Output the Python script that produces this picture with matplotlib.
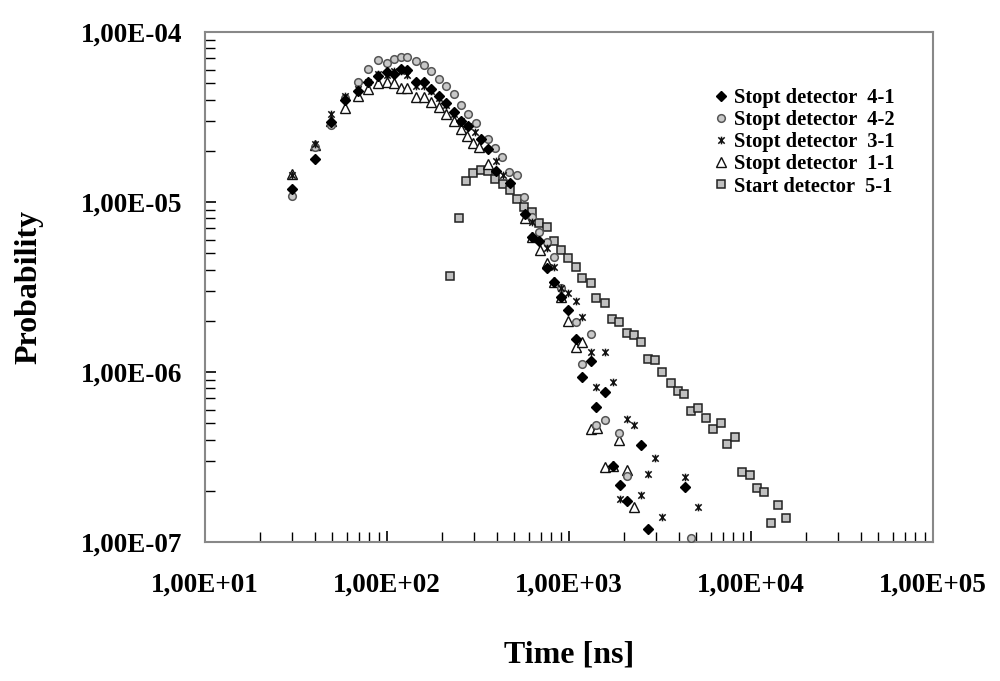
import matplotlib
matplotlib.use("Agg")
import matplotlib.pyplot as plt
from matplotlib.path import Path
from matplotlib.ticker import FuncFormatter, LogLocator, NullFormatter

plt.rcParams['font.family'] = ['Liberation Serif', 'DejaVu Serif']
plt.rcParams['font.weight'] = 'bold'

# ---- data ----
x_41 = [30, 40, 49, 59, 69, 78.5, 89, 100, 109, 119, 128, 144, 159, 175, 193, 212, 233, 256, 280,
        327, 357, 396, 472, 570, 624, 681, 753, 822, 899, 982, 1086, 1172, 1313, 1416, 1580, 1740,
        1900, 2070, 2500, 2700, 4350]
y_41 = [1.19e-5, 1.79e-5, 2.95e-5, 4.0e-5, 4.5e-5, 5.1e-5, 5.5e-5, 5.8e-5, 5.7e-5, 6.05e-5, 6.0e-5,
        5.1e-5, 5.1e-5, 4.6e-5, 4.2e-5, 3.8e-5, 3.4e-5, 3.0e-5, 2.8e-5,
        2.35e-5, 2.05e-5, 1.52e-5, 1.29e-5, 8.5e-6, 6.2e-6, 5.9e-6, 4.1e-6, 3.4e-6, 2.75e-6, 2.33e-6,
        1.56e-6, 9.3e-7, 1.16e-6, 6.2e-7, 7.6e-7, 2.8e-7, 2.15e-7, 1.75e-7, 3.7e-7, 1.2e-7, 2.1e-7]

x_42 = [30, 40, 49, 59, 69, 78.5, 89, 100, 109, 119, 128, 144, 159, 175, 193, 212, 233, 256, 280, 310,
        357, 391, 427, 466, 516, 563, 624, 681, 753, 822, 899, 1086, 1172, 1313, 1416, 1567, 1872,
        2070, 4706]
y_42 = [1.08e-5, 2.1e-5, 2.84e-5, 4.1e-5, 5.08e-5, 6.05e-5, 6.85e-5, 6.6e-5, 6.95e-5, 7.1e-5, 7.1e-5,
        6.75e-5, 6.4e-5, 5.9e-5, 5.3e-5, 4.8e-5, 4.3e-5, 3.7e-5, 3.3e-5, 2.9e-5,
        2.35e-5, 2.07e-5, 1.84e-5, 1.50e-5, 1.45e-5, 1.07e-5, 8.2e-6, 6.7e-6, 5.8e-6, 4.75e-6, 3.1e-6,
        1.97e-6, 1.11e-6, 1.67e-6, 4.9e-7, 5.2e-7, 4.4e-7, 2.45e-7, 1.05e-7]

x_31 = [30, 40, 49, 59, 69, 78.5, 89, 100, 109, 119, 128, 144, 159, 175, 193, 212, 233, 256, 280,
        303, 396, 432, 624, 753, 822, 899, 982, 1086, 1172, 1313, 1416, 1580, 1740, 1900, 2070,
        2263, 2473, 2700, 2985, 3263, 4350, 5140]
y_31 = [1.45e-5, 2.2e-5, 3.3e-5, 4.2e-5, 4.6e-5, 5.1e-5, 5.7e-5, 5.6e-5, 5.9e-5, 5.9e-5, 5.6e-5,
        4.8e-5, 4.8e-5, 4.5e-5, 4.1e-5, 3.7e-5, 3.3e-5, 3.0e-5, 2.8e-5,
        2.58e-5, 1.74e-5, 1.45e-5, 7.6e-6, 5.35e-6, 4.15e-6, 3.1e-6, 2.9e-6, 2.6e-6, 2.12e-6, 1.32e-6,
        8.2e-7, 1.32e-6, 8.7e-7, 1.8e-7, 5.3e-7, 4.85e-7, 1.9e-7, 2.5e-7, 3.1e-7, 1.4e-7, 2.4e-7, 1.6e-7]

x_11 = [30, 40, 49, 59, 69, 78.5, 89, 100, 109, 119, 128, 144, 159, 175, 193, 212, 233, 256,
        274, 296, 322, 357, 570, 624, 690, 753, 822, 899, 982, 1086, 1172, 1313, 1430, 1567, 1740,
        1872, 2070, 2263]
y_11 = [1.46e-5, 2.15e-5, 3.0e-5, 3.57e-5, 4.2e-5, 4.6e-5, 5.0e-5, 5.1e-5, 5.0e-5, 4.7e-5, 4.7e-5,
        4.15e-5, 4.15e-5, 3.9e-5, 3.6e-5, 3.3e-5, 3.0e-5, 2.7e-5,
        2.44e-5, 2.22e-5, 2.1e-5, 1.67e-5, 8.05e-6, 6.2e-6, 5.2e-6, 4.4e-6, 3.4e-6, 2.75e-6, 2.0e-6,
        1.4e-6, 1.51e-6, 4.6e-7, 4.7e-7, 2.75e-7, 2.8e-7, 4.0e-7, 2.65e-7, 1.6e-7]

x_51 = [221, 248, 270, 296, 327, 357, 391, 432, 472, 516, 563, 624, 681, 753, 822, 899, 982, 1086,
        1172, 1313, 1416, 1567, 1713, 1872, 2070, 2263, 2473, 2700, 2985, 3263, 3613, 3948, 4310,
        4706, 5140, 5690, 6220, 6800, 7420, 8200, 8970, 9930, 10840, 11850, 12940, 14130, 15630]
y_51 = [3.67e-6, 8.05e-6, 1.33e-5, 1.48e-5, 1.54e-5, 1.52e-5, 1.37e-5, 1.28e-5, 1.18e-5, 1.04e-5,
        9.35e-6, 8.7e-6, 7.5e-6, 7.1e-6, 5.9e-6, 5.22e-6, 4.69e-6, 4.15e-6, 3.57e-6, 3.34e-6, 2.72e-6,
        2.55e-6, 2.05e-6, 1.97e-6, 1.69e-6, 1.65e-6, 1.50e-6, 1.19e-6, 1.18e-6, 1.0e-6, 8.6e-7, 7.7e-7,
        7.4e-7, 5.9e-7, 6.1e-7, 5.35e-7, 4.6e-7, 5.0e-7, 3.77e-7, 4.15e-7, 2.58e-7, 2.48e-7, 2.08e-7,
        1.97e-7, 1.29e-7, 1.65e-7, 1.38e-7]

labels = ['Stopt detector  4-1', 'Stopt detector  4-2', 'Stopt detector  3-1',
          'Stopt detector  1-1', 'Start detector  5-1']
x_ticks = [1e1, 1e2, 1e3, 1e4, 1e5]
y_ticks = [1e-7, 1e-6, 1e-5, 1e-4]

# star marker (x with vertical bar), as used by the spreadsheet chart
star = Path([(-1, -1), (1, 1), (-1, 1), (1, -1), (0, -1.2), (0, 1.2)],
            [Path.MOVETO, Path.LINETO, Path.MOVETO, Path.LINETO, Path.MOVETO, Path.LINETO])

# ---- figure ----
fig = plt.figure(figsize=(10, 6.81), dpi=100)
ax = fig.add_axes([0.205, 1 - 542 / 681, 0.728, 510 / 681])

ax.plot(x_51, y_51, ls='none', marker='s', ms=5.5, mfc='#c0c0c0', mec='#222222', mew=1.1,
        label=labels[4], zorder=2)
ax.plot(x_11, y_11, ls='none', marker='^', ms=6.5, mfc='white', mec='#111111', mew=1.0,
        label=labels[3], zorder=3)
ax.plot(x_42, y_42, ls='none', marker='o', ms=5.5, mfc='#c8c8c8', mec='#555555', mew=1.1,
        label=labels[1], zorder=3)
ax.plot(x_31, y_31, ls='none', marker=star, ms=5.5, mfc='none', mec='#111111', mew=1.1,
        label=labels[2], zorder=4)
ax.plot(x_41, y_41, ls='none', marker='D', ms=5, mfc='black', mec='black',
        label=labels[0], zorder=5)

ax.set_xscale('log')
ax.set_yscale('log')
ax.set_xlim(1e1, 1e5)
ax.set_ylim(1e-7, 1e-4)

fmt = FuncFormatter(lambda v, p: ('%.2E' % v).replace('.', ','))
ax.set_xticks(x_ticks)
ax.set_yticks(y_ticks)
ax.xaxis.set_major_formatter(fmt)
ax.yaxis.set_major_formatter(fmt)
ax.xaxis.set_minor_locator(LogLocator(base=10, subs=range(2, 10)))
ax.yaxis.set_minor_locator(LogLocator(base=10, subs=range(2, 10)))
ax.xaxis.set_minor_formatter(NullFormatter())
ax.yaxis.set_minor_formatter(NullFormatter())
ax.tick_params(which='both', direction='in', top=False, right=False, color='black')
ax.tick_params(which='major', length=8, width=1.2, labelsize=19.5)
ax.tick_params(which='minor', length=7, width=1.0)
ax.tick_params(axis='x', which='major', pad=22)
ax.tick_params(axis='y', which='major', pad=16.5)
for lab in ax.get_xticklabels() + ax.get_yticklabels():
    lab.set_fontweight('bold')

for sp in ax.spines.values():
    sp.set_color('#888888')
    sp.set_linewidth(1.5)

ax.set_xlabel('Time [ns]', fontsize=23, fontweight='bold', labelpad=31)
ax.set_ylabel('Probability', fontsize=23, fontweight='bold', labelpad=27)

handles, labs = ax.get_legend_handles_labels()
order = [4, 2, 3, 1, 0]
leg = ax.legend([handles[i] for i in order], [labs[i] for i in order],
                loc='upper left', bbox_to_anchor=(0.705, 1 - 78 / 681),
                bbox_transform=fig.transFigure, frameon=False,
                prop={'family': 'Liberation Serif', 'weight': 'bold', 'size': 14.8},
                handlelength=0.6, handletextpad=0.3, labelspacing=0.1, borderpad=0)

fig.savefig('out.png', dpi=100)
